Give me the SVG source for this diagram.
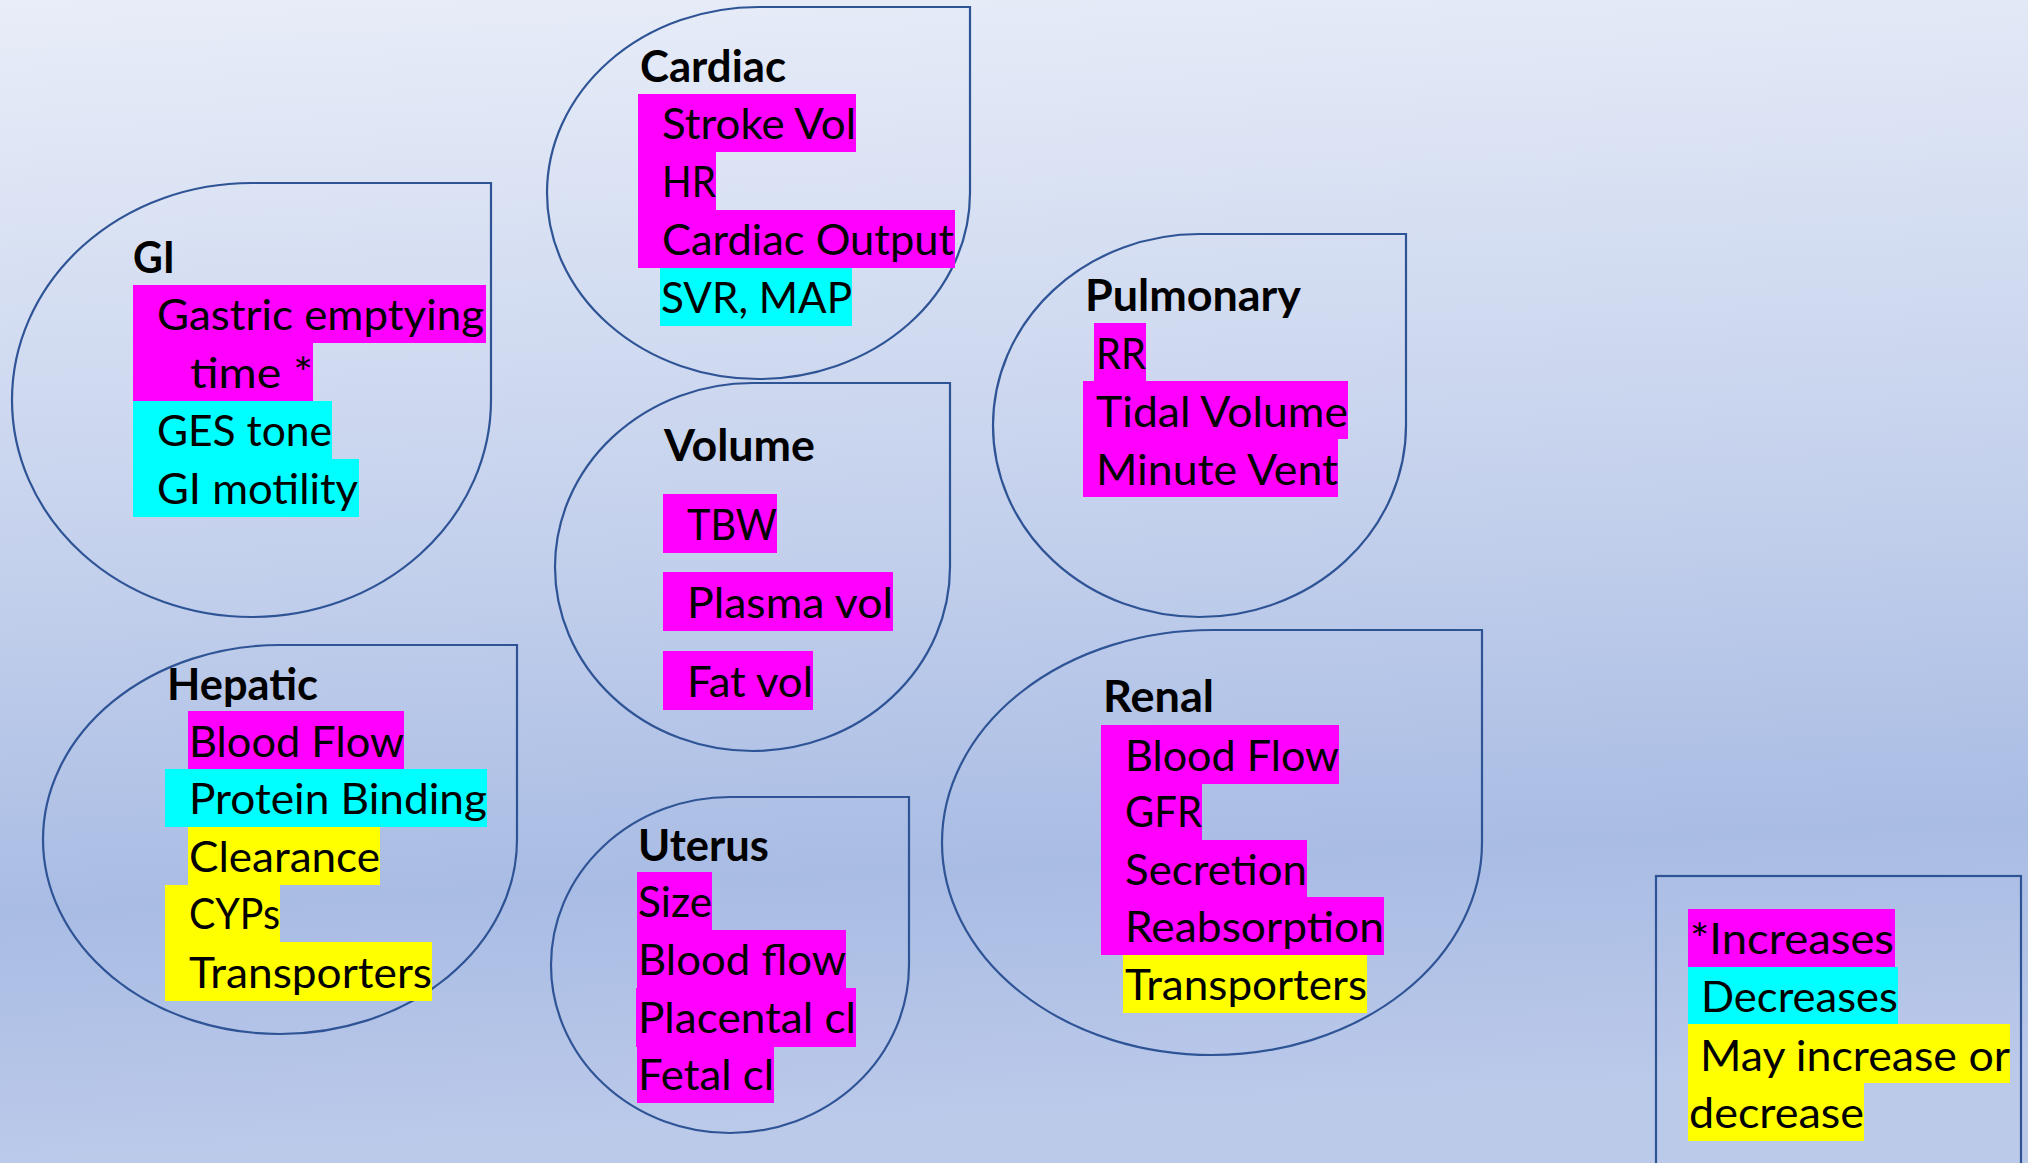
<svg xmlns="http://www.w3.org/2000/svg" width="2028" height="1163" viewBox="0 0 2028 1163">
<defs>
<linearGradient id="bg" x1="0" y1="0" x2="0.08" y2="1">
<stop offset="0" stop-color="#e8edf8"/>
<stop offset="0.5" stop-color="#c3d0ec"/>
<stop offset="0.78" stop-color="#a9bce4"/>
<stop offset="1" stop-color="#bccaea"/>
</linearGradient>
<style>
.shape{fill:none;stroke:#2f5496;stroke-width:2.2}
.t{font-family:Lato,"Open Sans",sans-serif;font-size:43px;fill:#000}
.b{font-weight:bold}
.m{fill:#ff00ff}
.c{fill:#00ffff}
.y{fill:#ffff00}
</style>
</defs>
<rect x="0" y="0" width="2028" height="1163" fill="url(#bg)"/>
<g id="connectors"/>

<g id="gi">
<path class="shape" d="M251.5,183 L491,183 L491,400 A239.5,217 0 0 1 251.5,617 A239.5,217 0 0 1 12,400 A239.5,217 0 0 1 251.5,183 Z"/>
<rect class="m" x="133" y="285" width="353" height="58"/>
<rect class="m" x="133" y="343" width="180" height="58"/>
<rect class="c" x="133" y="401" width="199" height="58"/>
<rect class="c" x="133" y="459" width="226" height="58"/>
<text class="t b" x="133" y="273" textLength="42" lengthAdjust="spacingAndGlyphs">GI</text>
<text class="t" x="157" y="330" textLength="327" lengthAdjust="spacingAndGlyphs">Gastric emptying</text>
<text class="t" x="190" y="388" textLength="123" lengthAdjust="spacingAndGlyphs">time *</text>
<text class="t" x="157" y="446" textLength="175" lengthAdjust="spacingAndGlyphs">GES tone</text>
<text class="t" x="157" y="504" textLength="201" lengthAdjust="spacingAndGlyphs">GI motility</text>
</g>

<g id="cardiac">
<path class="shape" d="M758.5,7 L970,7 L970,193 A211.5,186 0 0 1 758.5,379 A211.5,186 0 0 1 547,193 A211.5,186 0 0 1 758.5,7 Z"/>
<rect class="m" x="638" y="94" width="218" height="58"/>
<rect class="m" x="638" y="152" width="78" height="58"/>
<rect class="m" x="638" y="210" width="317" height="58"/>
<rect class="c" x="660" y="268" width="192" height="58"/>
<text class="t b" x="640" y="82" textLength="146" lengthAdjust="spacingAndGlyphs">Cardiac</text>
<text class="t" x="662" y="139" textLength="194" lengthAdjust="spacingAndGlyphs">Stroke Vol</text>
<text class="t" x="662" y="197" textLength="54" lengthAdjust="spacingAndGlyphs">HR</text>
<text class="t" x="662" y="255" textLength="292" lengthAdjust="spacingAndGlyphs">Cardiac Output</text>
<text class="t" x="661" y="313" textLength="191" lengthAdjust="spacingAndGlyphs">SVR, MAP</text>
</g>

<g id="volume">
<path class="shape" d="M752.5,383 L950,383 L950,567 A197.5,184 0 0 1 752.5,751 A197.5,184 0 0 1 555,567 A197.5,184 0 0 1 752.5,383 Z"/>
<rect class="m" x="663" y="494" width="114" height="59"/>
<rect class="m" x="663" y="572" width="230" height="59"/>
<rect class="m" x="663" y="651" width="150" height="59"/>
<text class="t b" x="664" y="461" textLength="151" lengthAdjust="spacingAndGlyphs">Volume</text>
<text class="t" x="687" y="540" textLength="90" lengthAdjust="spacingAndGlyphs">TBW</text>
<text class="t" x="687" y="618" textLength="206" lengthAdjust="spacingAndGlyphs">Plasma vol</text>
<text class="t" x="687" y="697" textLength="126" lengthAdjust="spacingAndGlyphs">Fat vol</text>
</g>

<g id="pulmonary">
<path class="shape" d="M1199.5,234 L1406,234 L1406,425.5 A206.5,191.5 0 0 1 1199.5,617 A206.5,191.5 0 0 1 993,425.5 A206.5,191.5 0 0 1 1199.5,234 Z"/>
<rect class="m" x="1094" y="323" width="52" height="58"/>
<rect class="m" x="1083" y="381" width="265" height="58"/>
<rect class="m" x="1083" y="439" width="255" height="58"/>
<text class="t b" x="1085" y="311" textLength="216" lengthAdjust="spacingAndGlyphs">Pulmonary</text>
<text class="t" x="1096" y="369" textLength="50" lengthAdjust="spacingAndGlyphs">RR</text>
<text class="t" x="1096" y="427" textLength="252" lengthAdjust="spacingAndGlyphs">Tidal Volume</text>
<text class="t" x="1096" y="485" textLength="242" lengthAdjust="spacingAndGlyphs">Minute Vent</text>
</g>

<g id="hepatic">
<path class="shape" d="M280,645 L517,645 L517,839.5 A237,194.5 0 0 1 280,1034 A237,194.5 0 0 1 43,839.5 A237,194.5 0 0 1 280,645 Z"/>
<rect class="m" x="188" y="711" width="216" height="58"/>
<rect class="c" x="165" y="769" width="322" height="58"/>
<rect class="y" x="188" y="827" width="192" height="58"/>
<rect class="y" x="165" y="885" width="115" height="57"/>
<rect class="y" x="165" y="942" width="267" height="59"/>
<text class="t b" x="167" y="700" textLength="151" lengthAdjust="spacingAndGlyphs">Hepatic</text>
<text class="t" x="189" y="757" textLength="215" lengthAdjust="spacingAndGlyphs">Blood Flow</text>
<text class="t" x="189" y="814" textLength="298" lengthAdjust="spacingAndGlyphs">Protein Binding</text>
<text class="t" x="189" y="872" textLength="191" lengthAdjust="spacingAndGlyphs">Clearance</text>
<text class="t" x="189" y="929" textLength="91" lengthAdjust="spacingAndGlyphs">CYPs</text>
<text class="t" x="189" y="988" textLength="243" lengthAdjust="spacingAndGlyphs">Transporters</text>
</g>

<g id="uterus">
<path class="shape" d="M730,797 L909,797 L909,965 A179,168 0 0 1 730,1133 A179,168 0 0 1 551,965 A179,168 0 0 1 730,797 Z"/>
<rect class="m" x="637" y="872" width="75" height="58"/>
<rect class="m" x="637" y="930" width="209" height="58"/>
<rect class="m" x="636" y="988" width="220" height="59"/>
<rect class="m" x="637" y="1047" width="137" height="56"/>
<text class="t b" x="638" y="861" textLength="131" lengthAdjust="spacingAndGlyphs">Uterus</text>
<text class="t" x="638" y="917" textLength="74" lengthAdjust="spacingAndGlyphs">Size</text>
<text class="t" x="638" y="975" textLength="208" lengthAdjust="spacingAndGlyphs">Blood flow</text>
<text class="t" x="638" y="1033" textLength="218" lengthAdjust="spacingAndGlyphs">Placental cl</text>
<text class="t" x="638" y="1090" textLength="136" lengthAdjust="spacingAndGlyphs">Fetal cl</text>
</g>

<g id="renal">
<path class="shape" d="M1212,630 L1482,630 L1482,842.5 A270,212.5 0 0 1 1212,1055 A270,212.5 0 0 1 942,842.5 A270,212.5 0 0 1 1212,630 Z"/>
<rect class="m" x="1101" y="725" width="238" height="59"/>
<rect class="m" x="1101" y="784" width="101" height="56"/>
<rect class="m" x="1101" y="840" width="206" height="57"/>
<rect class="m" x="1101" y="897" width="283" height="58"/>
<rect class="y" x="1123" y="955" width="244" height="58"/>
<text class="t b" x="1103" y="712" textLength="111" lengthAdjust="spacingAndGlyphs">Renal</text>
<text class="t" x="1125" y="771" textLength="214" lengthAdjust="spacingAndGlyphs">Blood Flow</text>
<text class="t" x="1125" y="827" textLength="77" lengthAdjust="spacingAndGlyphs">GFR</text>
<text class="t" x="1125" y="885" textLength="182" lengthAdjust="spacingAndGlyphs">Secretion</text>
<text class="t" x="1125" y="942" textLength="259" lengthAdjust="spacingAndGlyphs">Reabsorption</text>
<text class="t" x="1125" y="1000" textLength="242" lengthAdjust="spacingAndGlyphs">Transporters</text>
</g>

<g id="legend">
<rect class="shape" x="1656" y="876" width="365" height="320"/>
<rect class="m" x="1688" y="909" width="207" height="58"/>
<rect class="c" x="1688" y="967" width="210" height="57"/>
<rect class="y" x="1688" y="1024" width="322" height="59"/>
<rect class="y" x="1688" y="1083" width="176" height="58"/>
<text class="t" x="1690" y="954" textLength="204" lengthAdjust="spacingAndGlyphs">*Increases</text>
<text class="t" x="1701" y="1012" textLength="197" lengthAdjust="spacingAndGlyphs">Decreases</text>
<text class="t" x="1700" y="1071" textLength="310" lengthAdjust="spacingAndGlyphs">May increase or</text>
<text class="t" x="1689" y="1128" textLength="175" lengthAdjust="spacingAndGlyphs">decrease</text>
</g>
</svg>
